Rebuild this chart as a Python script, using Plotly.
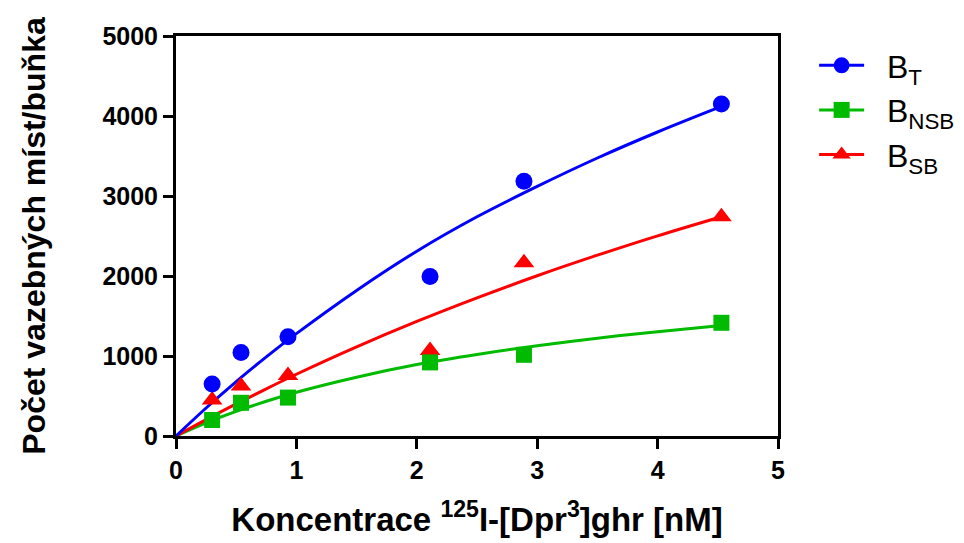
import plotly.graph_objects as go

# measured data points
x_pts = [0.30, 0.54, 0.93, 2.11, 2.89, 4.53]
bt_pts = [650, 1045, 1240, 1995, 3185, 4150]
nsb_pts = [200, 415, 480, 920, 1015, 1415]
sb_pts = [450, 625, 755, 1070, 2165, 2740]

# fitted curves
x_fit = [0, 0.25, 0.5, 0.75, 1.0, 1.5, 2.0, 2.5, 3.0, 3.5, 4.0, 4.53]
bt_fit = [0, 350, 680, 990, 1280, 1820, 2310, 2740, 3120, 3475, 3800, 4120]
nsb_fit = [0, 164, 307, 434, 547, 735, 893, 1020, 1129, 1223, 1304, 1380]
sb_fit = [0, 205, 401, 590, 772, 1114, 1432, 1727, 2003, 2260, 2502, 2741]

names = ["&nbsp;&nbsp;B<sub>T</sub>", "&nbsp;&nbsp;B<sub>NSB</sub>", "&nbsp;&nbsp;B<sub>SB</sub>"]
colors = ["#0000ff", "#00bb00", "#ff0000"]
symbols = ["circle", "square", "triangle-up"]
sizes = [17, 16, 18]

FONT = "Liberation Sans, Arial, sans-serif"

fig = go.Figure()

fits = [bt_fit, nsb_fit, sb_fit]
pts = [bt_pts, nsb_pts, sb_pts]

# curves
for i in [1, 2, 0]:
    fig.add_trace(go.Scatter(x=x_fit, y=fits[i], mode="lines", line=dict(color=colors[i], width=3, shape="spline"),
                             showlegend=False, hoverinfo="skip"))
# markers
for i in [2, 1, 0]:
    fig.add_trace(go.Scatter(x=x_pts, y=pts[i], mode="markers",
                             marker=dict(symbol=symbols[i], size=sizes[i], color=colors[i], line=dict(width=0)),
                             showlegend=False))
# legend entries
for i in range(3):
    fig.add_trace(go.Scatter(x=[None], y=[None], mode="lines+markers", name=names[i],
                             line=dict(color=colors[i], width=3),
                             marker=dict(symbol=symbols[i], size=sizes[i], color=colors[i], line=dict(width=0))))

axis_common = dict(
    showline=True, linecolor="black", linewidth=3, mirror=True,
    ticks="outside", ticklen=10, tickwidth=3, tickcolor="black",
    showgrid=False, zeroline=False,
    tickfont=dict(family=FONT, size=25, color="black", weight="bold"),
)

fig.update_layout(
    width=964, height=543,
    margin=dict(l=176, r=186, t=36, b=107, autoexpand=False),
    plot_bgcolor="white", paper_bgcolor="white",
    xaxis=dict(range=[0, 5], dtick=1, tick0=0,
               title=dict(text="Koncentrace <sup>125</sup>I-[Dpr<sup>3</sup>]ghr [nM]",
                          font=dict(family=FONT, size=33, color="black", weight="bold"), standoff=25),
               **axis_common),
    yaxis=dict(range=[0, 5000], dtick=1000, tick0=0,
               title=dict(text="Počet vazebných míst/buňka",
                          font=dict(family=FONT, size=32, color="black", weight="bold"), standoff=48),
               **axis_common),
    legend=dict(x=1.06, y=0.995, xanchor="left", yanchor="top",
                font=dict(family=FONT, size=32, color="black"),
                itemwidth=45, bgcolor="rgba(0,0,0,0)"),
)

fig.write_html("out.html")
